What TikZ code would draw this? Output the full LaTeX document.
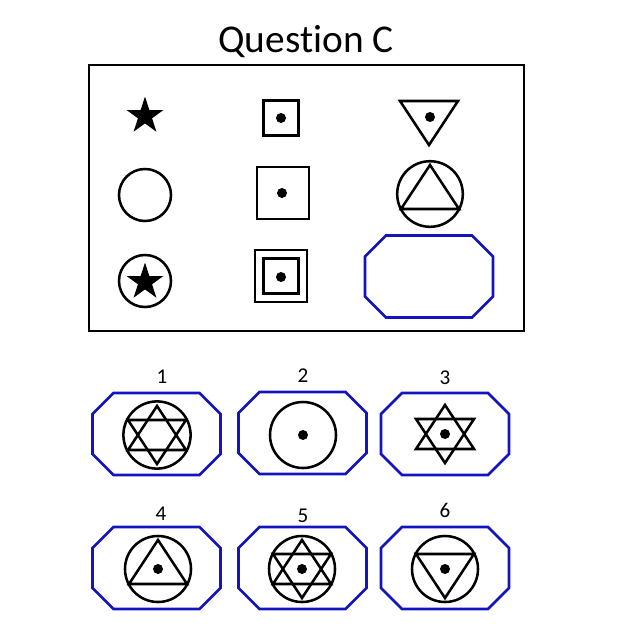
\documentclass[tikz,border=0pt]{standalone}
\usepackage{fontspec}
\setmainfont{Carlito}[Ligatures=NoCommon]
\usetikzlibrary{shapes.geometric}
\definecolor{optblue}{RGB}{20,20,190}
\newcommand{\uptri}[1]{\draw[shape line] (#1) ++(0,-29) -- ++(29,44) -- ++(-58,0) -- cycle;}
\newcommand{\downtri}[1]{\draw[shape line] (#1) ++(0,29) -- ++(29,-44) -- ++(-58,0) -- cycle;}
\newcommand{\octa}[1]{\draw[answer line] (#1) ++(-43,-41) -- ++(86,0) -- ++(21,21) -- ++(0,40)
  -- ++(-21,21) -- ++(-86,0) -- ++(-21,-21) -- ++(0,-40) -- cycle;}
\tikzset{
  shape line/.style={line width=1.8pt, line join=miter},
  answer line/.style={draw=optblue, line width=1.9pt, line join=miter},
  ring/.style={draw, circle, line width=1.8pt, inner sep=0pt, minimum size=#1},
  sq/.style={draw, rectangle, line width=1.8pt, inner sep=0pt, minimum size=#1},
  dot/.style={fill, circle, inner sep=0pt, minimum size=0.25cm},
  fivestar/.style={fill, star, star points=5, star point ratio=2.618, inner sep=0pt, minimum size=0.97cm},
  number/.style={font=\fontsize{15}{17}\selectfont, anchor=base}
}
\begin{document}
\begin{tikzpicture}[x=0.025cm, y=-0.025cm]
\useasboundingbox (0,0) rectangle (640,640);
\node[font=\fontsize{28}{32}\selectfont, anchor=base] (title) at (306,52) {Question C};
\draw[line width=1.6pt] (89,65) rectangle (524,331);

% question grid
\node[fivestar] (s11) at (145,116) {};
\node[sq=0.875cm] (q12) at (281,118) {};
\node[dot] (d12) at (281,118) {};
\coordinate (t13) at (429,116);
\downtri{t13}
\node[dot] (d13) at (430,117) {};

\node[ring=1.3cm] (c21) at (145,195) {};
\node[sq=1.3cm] (q22) at (283,193) {};
\node[dot] (d22) at (282,193) {};
\node[ring=1.64cm] (c23) at (430,194) {};
\uptri{c23}

\node[ring=1.3cm] (c31) at (145,281) {};
\node[fivestar] (s31) at (145,282) {};
\node[sq=1.3cm] (q32) at (281,276) {};
\node[sq=0.875cm] (p32) at (281,276) {};
\node[dot] (d32) at (281,277) {};
\coordinate (blank) at (429,276.5);
\octa{blank}

% answer options
\coordinate (o1) at (156.5,434);
\coordinate (o2) at (302.5,433);
\coordinate (o3) at (445,434);
\coordinate (o4) at (156.5,568);
\coordinate (o5) at (302.5,568);
\coordinate (o6) at (445,568);
\octa{o1} \octa{o2} \octa{o3}
\octa{o4} \octa{o5} \octa{o6}

\node[number] (n1) at (162,383) {1};
\node[number] (n2) at (303,382) {2};
\node[number] (n3) at (445,384) {3};
\node[number] (n4) at (161,520) {4};
\node[number] (n5) at (303,522) {5};
\node[number] (n6) at (445,517) {6};

\node[ring=1.68cm] (c1) at (157,435) {};
\uptri{c1}
\downtri{c1}
\node[ring=1.65cm] (c2) at (303,435) {};
\node[dot] (d2) at (303,435) {};
\coordinate (h3) at (445,434);
\uptri{h3}
\downtri{h3}
\node[dot] (d3) at (445,434) {};
\node[ring=1.65cm] (c4) at (158,569) {};
\uptri{c4}
\node[dot] (d4) at (158,569) {};
\node[ring=1.65cm] (c5) at (302,569) {};
\uptri{c5}
\downtri{c5}
\node[dot] (d5) at (302,569) {};
\node[ring=1.65cm] (c6) at (445,569) {};
\downtri{c6}
\node[dot] (d6) at (445,569) {};
\end{tikzpicture}
\end{document}
